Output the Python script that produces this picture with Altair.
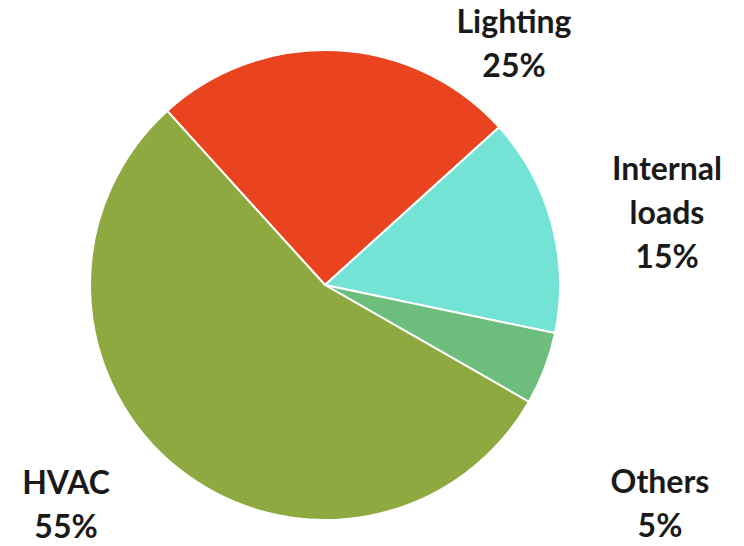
import math
import altair as alt
import pandas as pd

categories = ["Lighting", "Internal loads", "Others", "HVAC"]
shares = [25, 15, 5, 55]
colors = ["#E9431F", "#72E3D4", "#6DBE7C", "#8EA93F"]

df = pd.DataFrame({"category": categories, "share": shares, "idx": list(range(len(categories)))})

start = math.radians(360 - 42.2)
base = alt.Chart(df)

pie = base.mark_arc(outerRadius=235, stroke="white", strokeWidth=2).encode(
    theta=alt.Theta("share:Q", stack=True, scale=alt.Scale(range=[start, start + 2 * math.pi])),
    color=alt.Color("category:N", scale=alt.Scale(domain=categories, range=colors), legend=None),
    order=alt.Order("idx:Q"),
    x=alt.value(325),
    y=alt.value(285),
)

label_pos = {
    "Lighting": (514, 33),
    "Internal loads": (667, 180),
    "Others": (660, 493),
    "HVAC": (66, 494),
}

layers = [pie]
for cat in categories:
    px, py = label_pos[cat]
    t = base.transform_filter(alt.datum.category == cat).transform_calculate(
        label="datum.category + ' ' + datum.share + '%'"
    ).mark_text(
        font="Lato", fontWeight="bold", fontSize=32, color="#1a1a1a",
        align="center", baseline="alphabetic", lineBreak=" ", lineHeight=44,
    ).encode(text="label:N", x=alt.value(px), y=alt.value(py))
    layers.append(t)

chart = alt.layer(*layers).properties(
    width=744, height=546, autosize=alt.AutoSizeParams(type="none"), padding=0
).configure_view(stroke=None)

chart.save("out.html", embed_options={"renderer": "svg", "actions": False})
